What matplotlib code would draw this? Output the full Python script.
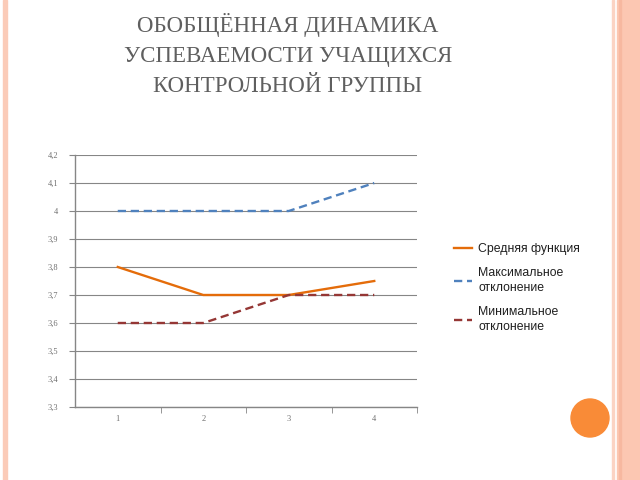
import matplotlib.pyplot as plt
from matplotlib import ticker
from matplotlib.patches import Rectangle, Circle

# данные
categories = ['1', '2', '3', '4']
mean_vals = [3.8, 3.7, 3.7, 3.75]
max_vals = [4.0, 4.0, 4.0, 4.1]
min_vals = [3.6, 3.6, 3.7, 3.7]
labels = ['Средняя функция', 'Максимальное\nотклонение', 'Минимальное\nотклонение']
title = 'ОБОБЩЁННАЯ ДИНАМИКА\nУСПЕВАЕМОСТИ УЧАЩИХСЯ\nКОНТРОЛЬНОЙ ГРУППЫ'
y_ticks = [3.3, 3.4, 3.5, 3.6, 3.7, 3.8, 3.9, 4.0, 4.1, 4.2]

plt.rcParams['font.family'] = ['DejaVu Sans']
fig = plt.figure(figsize=(6.4, 4.8), dpi=100)

# рамка слайда
fig.patches.append(Rectangle((3/640, 0), 4/640, 1, transform=fig.transFigure,
                             color='#FBCBB8', zorder=0))
fig.patches.append(Rectangle((612/640, 0), 2/640, 1, transform=fig.transFigure,
                             color='#FBD3C3', zorder=0))
fig.patches.append(Rectangle((617/640, 0), 23/640, 1, transform=fig.transFigure,
                             color='#FCC7B2', zorder=0))
fig.patches.append(Rectangle((619/640, 0), 2/640, 1, transform=fig.transFigure,
                             color='#F7B8A0', zorder=0))
circ = Circle((5.90, (480-418)/100), 0.19, transform=fig.dpi_scale_trans,
              color='#F98B37', zorder=1)
fig.patches.append(circ)

fig.text(288/640, 1-55/480, title, ha='center', va='center', fontsize=16.5,
         family='Liberation Serif', color='#5F5F5F', linespacing=1.55)

ax = fig.add_axes([75/640, 1-407/480, 342/640, 252/480])
x = range(len(categories))
ax.plot(x, mean_vals, color='#E46C0A', linewidth=1.7, label=labels[0])
ax.plot(x, max_vals, color='#4F81BD', linewidth=1.7, linestyle=(0, (3.5, 2)), label=labels[1])
ax.plot(x, min_vals, color='#953735', linewidth=1.7, linestyle=(0, (3.5, 2)), label=labels[2])

ax.set_xlim(-0.5, 3.5)
ax.set_ylim(3.3, 4.2)
ax.set_xticks(list(x))
ax.set_xticklabels(categories)
ax.xaxis.set_minor_locator(ticker.FixedLocator([0.5, 1.5, 2.5, 3.5]))
ax.tick_params(axis='x', which='major', length=0, pad=6, labelsize=6, labelcolor='#6F6F6F')
ax.tick_params(axis='x', which='minor', length=4, color='#868686')
ax.set_yticks(y_ticks)
ax.yaxis.set_major_formatter(ticker.FuncFormatter(lambda v, p: ('%g' % round(v, 2)).replace('.', ',')))
ax.tick_params(axis='y', length=4, color='#868686', labelsize=6, labelcolor='#6F6F6F', pad=8)
for lab in ax.get_xticklabels() + ax.get_yticklabels():
    lab.set_family('Liberation Serif')
ax.grid(axis='y', color='#868686', linewidth=0.8)
ax.set_axisbelow(True)
for s in ['top', 'right']:
    ax.spines[s].set_visible(False)
for s in ['left', 'bottom']:
    ax.spines[s].set_color('#868686')
    ax.spines[s].set_linewidth(1)

leg = fig.legend(loc='upper left', bbox_to_anchor=(443/640, 1-232/480), frameon=False,
                 prop={'family': 'Liberation Sans', 'size': 8.8}, handlelength=1.5,
                 handletextpad=0.5, labelspacing=0.95, labelcolor='#1F1F1F')
for t in leg.get_texts():
    t.set_linespacing(1.4)

fig.savefig('out.png', dpi=100)
